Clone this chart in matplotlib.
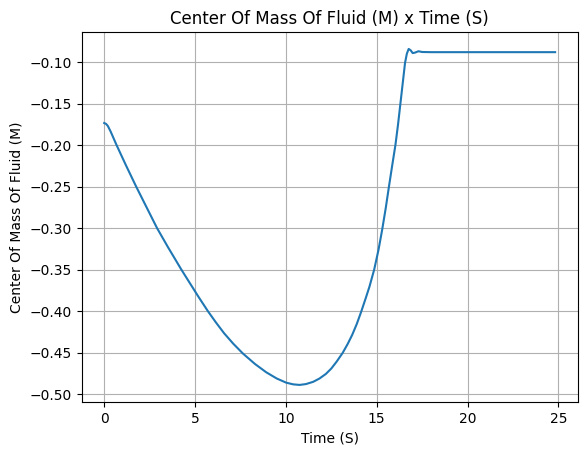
import matplotlib
matplotlib.use("Agg")
import matplotlib.pyplot as plt

time_s = [0.0, 0.1, 0.2, 0.35, 0.68, 1.2, 1.76, 2.3, 2.91, 3.5, 4.25, 4.71, 5.2, 5.71,
          6.15, 6.6, 7.1, 7.64, 8.3, 8.92, 9.5, 10.02, 10.4, 10.75, 11.1, 11.5, 11.85,
          12.2, 12.5, 12.8, 13.13, 13.4, 13.65, 13.9, 14.14, 14.4, 14.6, 14.86, 15.1, 15.3,
          15.5, 15.66, 15.85, 16.03, 16.17, 16.3, 16.43, 16.56, 16.66, 16.76, 16.87, 16.98,
          17.1, 17.3, 17.5, 18.0, 24.82]
com_m = [-0.1735, -0.1745, -0.177, -0.1835, -0.200, -0.2245, -0.250, -0.2735, -0.300,
         -0.3225, -0.350, -0.366, -0.383, -0.400, -0.4135, -0.4265, -0.439, -0.451,
         -0.4635, -0.4735, -0.481, -0.486, -0.488, -0.4887, -0.4877, -0.485, -0.481,
         -0.4755, -0.469, -0.4605, -0.450, -0.4395, -0.4285, -0.4155, -0.401, -0.384,
         -0.3705, -0.350, -0.326, -0.302, -0.2755, -0.252, -0.225, -0.200, -0.176, -0.151,
         -0.126, -0.101, -0.090, -0.0843, -0.086, -0.0893, -0.0888, -0.0871, -0.088,
         -0.0882, -0.0882]

fig, ax = plt.subplots(figsize=(6.4, 4.8), dpi=100)
ax.plot(time_s, com_m)
ax.set_title("Center Of Mass Of Fluid (M) x Time (S)")
ax.set_xlabel("Time (S)")
ax.set_ylabel("Center Of Mass Of Fluid (M)")
ax.grid(True)
fig.savefig("out.png", dpi=100, bbox_inches="tight")
